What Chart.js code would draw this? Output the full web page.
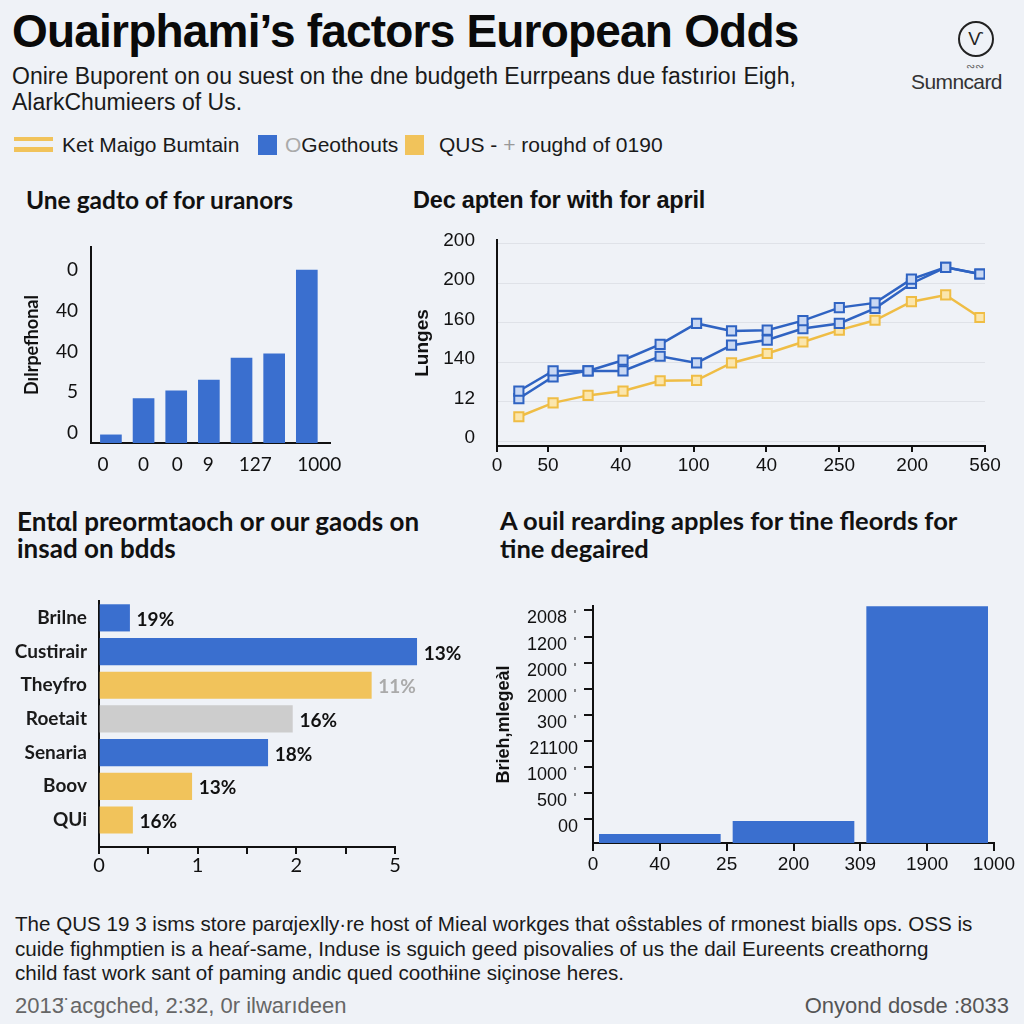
<!DOCTYPE html>
<html>
<head>
<meta charset="utf-8">
<script src="https://cdn.jsdelivr.net/npm/chart.js@4.4.0/dist/chart.umd.min.js"></script>
<style>
html, body { margin: 0; padding: 0; background: #eff2f7; }
body { width: 1024px; height: 1024px; position: relative; overflow: hidden; font-family: "Liberation Sans", Arial, sans-serif; color: #111; }
.abs { position: absolute; white-space: nowrap; }
#title { left: 12px; top: 8px; font-size: 46px; font-weight: bold; line-height: 1; letter-spacing: -0.8px; color: #0a0a0a; }
#subtitle { left: 12px; top: 63px; font-size: 23px; line-height: 26px; color: #1a1a1a; }
.leg { top: 135px; font-size: 21px; line-height: 20px; color: #1a1a1a; }
.sw { position: absolute; }
.ptitle { font-family: Lato, "Open Sans", sans-serif; font-weight: bold; color: #111; }
#foot { left: 15px; top: 912px; font-size: 20.6px; line-height: 24.5px; color: #1a1a1a; }
.bottom { top: 995px; font-size: 22px; line-height: 22px; color: #666; }
#logo { left: 958px; top: 21px; width: 32px; height: 32px; border: 2px solid #222; border-radius: 50%; text-align: center; font-size: 19px; line-height: 32px; color: #222; }
canvas { position: absolute; }
</style>
</head>
<body>
<div id="title" class="abs">Ouairphami’s factors European Odds</div>
<div id="subtitle" class="abs">Onire Buporent on ou suest on the dne budgeth Eurrpeans due fastırioı Eigh,<br>AlarkChumieers of Us.</div>

<div id="logo" class="abs">Ѵ</div>
<div class="abs" style="left:966px;top:60px;font-size:11px;color:#666;">∾∾</div>
<div class="abs" style="left:911px;top:71px;font-size:21px;line-height:21px;color:#333;letter-spacing:-0.6px;">Sumncard</div>

<div class="sw" style="left:14px;top:137px;width:39px;height:4px;background:#f1c35b;"></div>
<div class="sw" style="left:14px;top:147px;width:39px;height:5px;background:#f1c35b;"></div>
<div class="abs leg" style="left:62px;">Ket Maigo Bumtain</div>
<div class="sw" style="left:258px;top:135px;width:19px;height:20px;background:#3a6fcf;"></div>
<div class="abs leg" style="left:285px;"><span style="color:#aaa">O</span>Geothouts</div>
<div class="sw" style="left:405px;top:135px;width:19px;height:20px;background:#f1c35b;"></div>
<div class="abs leg" style="left:439px;">QUS - <span style="color:#999">+</span> roughd of 0190</div>

<div class="abs ptitle" style="left:26px;top:187px;font-size:24.5px;line-height:26px;">Une gadto of for uranors</div>
<div class="abs ptitle" style="left:413px;top:187px;font-size:23.5px;line-height:26px;font-family:'Liberation Sans',Arial,sans-serif;letter-spacing:-0.2px;">Dec apten for with for april</div>
<div class="abs ptitle" style="left:17px;top:508px;font-size:26px;line-height:27px;">Entαl preormtaoch or our gaods on<br>insad on bdds</div>
<div class="abs ptitle" style="left:500px;top:507px;font-size:25.5px;line-height:27.5px;">A ouil rearding apples for tine fleords for<br>tine degaired</div>

<canvas id="c1" width="350" height="250" style="left:0;top:230px;width:350px;height:250px;"></canvas>
<canvas id="c2" width="624" height="250" style="left:400px;top:230px;width:624px;height:250px;"></canvas>
<canvas id="c3" width="480" height="290" style="left:0;top:590px;width:480px;height:290px;"></canvas>
<canvas id="c4" width="544" height="290" style="left:480px;top:590px;width:544px;height:290px;"></canvas>

<div id="foot" class="abs">The QUS 19 3 isms store parαjexlly·re host of Mieal workges that oŝstables of rmonest bialls ops. OSS is<br>cuide fighmptien is a heaŕ-same, Induse is sguich geed pisovalies of us the dail Eureents creathorng<br>child fast work sant of paming andic qued coothɨine siçinose heres.</div>
<div class="abs bottom" style="left:15px;">2013̈ acgched, 2:32, 0r ilwarıdeen</div>
<div class="abs bottom" style="right:15px;color:#555;">Onyond dosde :8033</div>

<script>
// ---- panel 1: vertical bars ----
const bars1Pos = [1, 2, 3, 4, 5, 6, 7];
const bars1Values = [0.2, 1.09, 1.28, 1.55, 2.09, 2.19, 4.25];
const bars1XTicks = [0.76, 2.0, 3.03, 3.98, 5.42, 7.38];
const bars1XLabels = ['0', '0', '0', '9', '127', '1000'];
const bars1YTicks = [0.25, 1.25, 2.25, 3.25, 4.25];
const bars1YLabels = ['0', '5', '40', '40', '0'];

// ---- panel 2: lines ----
const lineX = [0.6, 1.07, 1.55, 2.03, 2.54, 3.04, 3.52, 4.01, 4.5, 5.0, 5.49, 5.99, 6.46, 6.93];
const lineUpper = [1.27, 1.78, 1.78, 2.05, 2.45, 2.98, 2.79, 2.81, 3.05, 3.38, 3.5, 4.1, 4.4, 4.23];
const lineLower = [1.08, 1.63, 1.78, 1.78, 2.15, 1.98, 2.43, 2.56, 2.85, 2.98, 3.36, 3.99, 4.4, 4.23];
const lineYellow = [0.62, 0.97, 1.16, 1.27, 1.53, 1.54, 1.98, 2.22, 2.51, 2.81, 3.06, 3.53, 3.7, 3.13];
const lineXTicks = [0.3, 1, 2, 3, 4, 5, 6, 7];
const lineXLabels = ['0', '50', '40', '100', '40', '250', '200', '560'];
const lineYTicks = [0, 1, 2, 3, 4, 5];
const lineYLabels = ['0', '12', '140', '160', '200', '200'];

// ---- panel 3: horizontal bars ----
const hbarNames = ['Brilne', 'Custirair', 'Theyfro', 'Roetait', 'Senaria', 'Boov', 'QUi'];
const hbarValues = [0.31, 3.22, 2.76, 1.96, 1.71, 0.94, 0.34];
const hbarPct = ['19%', '13%', '11%', '16%', '18%', '13%', '16%'];
const hbarGroup = ['Geothouts', 'Geothouts', 'QUS', 'other', 'Geothouts', 'QUS', 'QUS'];
const hbarXLabels = { 0: '0', 1: '1', 2: '2', 3: '5' };

// ---- panel 4: wide columns ----
const colX = [1, 3, 5];
const colValues = [0.33, 0.83, 9.05];
const colXLabels = ['0', '40', '25', '200', '309', '1900', '1000'];
const colYTicks = [0.9, 1.9, 2.9, 3.9, 4.9, 5.9, 6.9, 7.9, 8.9];
const colYLabels = ['00', '500 \u02C8', '1000 \u02C8', '21100', '300 \u02C8', '2000 \u02C8', '2000 \u02C8', '1200 \u02C8', '2008 \u02C8'];

const BLUE = '#3a6fcf';
const LINE_BLUE = '#2f63c2';
const YELLOW = '#f1c35b';
const GREY = '#cdcdcd';
const groupColor = { Geothouts: BLUE, QUS: YELLOW, other: GREY };
const AXIS = '#111';

Chart.defaults.font.family = '"Liberation Sans", Arial, sans-serif';
Chart.defaults.color = '#111';

function fixW(w) {
    return s => { s.width = w; s.paddingTop = 0; s.paddingBottom = 0; s.paddingLeft = 0; s.paddingRight = 0; };
}
function fixH(h) {
    return s => { s.height = h; s.paddingTop = 0; s.paddingBottom = 0; s.paddingLeft = 0; s.paddingRight = 0; };
}
function setTicks(values) {
    return s => { s.ticks = values.map(v => ({ value: v })); };
}
const quiet = { legend: { display: false }, tooltip: { enabled: false } };

new Chart(document.getElementById('c1'), {
    type: 'bar',
    data: {
        datasets: [{
            data: bars1Pos.map((x, i) => ({ x: x, y: bars1Values[i] })),
            backgroundColor: BLUE,
            barThickness: 21
        }]
    },
    options: {
        responsive: false,
        animation: false,
        plugins: quiet,
        layout: { padding: { top: 17, right: 20, left: 0, bottom: 0 } },
        scales: {
            x: {
                type: 'linear', min: 0.39, max: 7.71, offset: false,
                afterBuildTicks: setTicks(bars1XTicks),
                afterFit: fixH(37),
                grid: { display: false, drawTicks: false, offset: false },
                border: { color: AXIS, width: 2 },
                ticks: { callback: (v, i) => bars1XLabels[i], autoSkip: false, maxRotation: 0, padding: 10,
                         font: { family: 'Lato', size: 19 } }
            },
            y: {
                min: 0, max: 4.82,
                afterBuildTicks: setTicks(bars1YTicks),
                afterFit: fixW(91),
                grid: { display: false, drawTicks: false },
                border: { color: AXIS, width: 2 },
                ticks: { callback: (v, i) => bars1YLabels[i], autoSkip: false, padding: 13,
                         font: { family: 'Lato', size: 19 } },
                title: { display: true, text: 'Dılrpefhonal', color: '#111', padding: { top: 21, bottom: 0 },
                         font: { family: 'Lato', size: 18, weight: 'bold' } }
            }
        }
    }
});

function lineSet(values, color, fill) {
    return {
        data: lineX.map((x, i) => ({ x: x, y: values[i] })),
        borderColor: color,
        borderWidth: 2.5,
        pointStyle: 'rect',
        pointRadius: 6.5,
        pointBorderWidth: 2,
        pointBorderColor: color,
        pointBackgroundColor: fill,
        tension: 0
    };
}

new Chart(document.getElementById('c2'), {
    type: 'line',
    data: {
        datasets: [
            lineSet(lineUpper, LINE_BLUE, '#c9d8f3'),
            lineSet(lineLower, LINE_BLUE, '#c9d8f3'),
            lineSet(lineYellow, '#efbd45', '#fbe6ad')
        ]
    },
    options: {
        responsive: false,
        animation: false,
        plugins: quiet,
        layout: { padding: { top: 10, right: 39, left: 0, bottom: 0 } },
        scales: {
            x: {
                type: 'linear', min: 0.3, max: 7,
                afterBuildTicks: setTicks(lineXTicks),
                afterFit: fixH(34),
                grid: { drawOnChartArea: false, tickLength: 6, color: AXIS, lineWidth: 2 },
                border: { color: AXIS, width: 2 },
                ticks: { callback: (v, i) => lineXLabels[i], autoSkip: false, maxRotation: 0, padding: 2,
                         font: { size: 19 } }
            },
            y: {
                min: -0.12, max: 5.09,
                afterBuildTicks: setTicks(lineYTicks),
                afterFit: fixW(97),
                grid: { color: '#dfe2e8', lineWidth: 1, drawTicks: false },
                border: { color: AXIS, width: 2 },
                ticks: { callback: (v, i) => lineYLabels[i], autoSkip: false, padding: 22, labelOffset: -3,
                         font: { size: 19 } },
                title: { display: true, text: 'Lunges', color: '#111', padding: { top: 11, bottom: 0 },
                         font: { size: 19, weight: 'bold' } }
            }
        }
    }
});

const valueLabels = {
    id: 'valueLabels',
    afterDatasetsDraw(chart) {
        const ctx = chart.ctx;
        const meta = chart.getDatasetMeta(0);
        ctx.save();
        ctx.font = 'bold 19px Lato';
        ctx.textBaseline = 'middle';
        meta.data.forEach((bar, i) => {
            ctx.fillStyle = hbarGroup[i] === 'QUS' && i === 2 ? '#aaaaaa' : '#111';
            ctx.fillText(hbarPct[i], bar.x + 7, bar.y + 2);
        });
        ctx.restore();
    }
};

new Chart(document.getElementById('c3'), {
    type: 'bar',
    data: {
        datasets: [{
            data: hbarValues.map((v, i) => ({ x: v, y: i })),
            backgroundColor: hbarGroup.map(g => groupColor[g]),
            barThickness: 26.5,
            clip: false
        }]
    },
    options: {
        indexAxis: 'y',
        responsive: false,
        animation: false,
        plugins: quiet,
        layout: { padding: { top: 11, right: 85, left: 0, bottom: 0 } },
        scales: {
            y: {
                type: 'linear', reverse: true, min: -0.5, max: 6.8, offset: false,
                afterBuildTicks: setTicks(hbarNames.map((n, i) => i)),
                afterFit: fixW(99),
                grid: { display: false, drawTicks: false, offset: false },
                border: { color: AXIS, width: 2 },
                ticks: { callback: (v, i) => hbarNames[i], autoSkip: false, padding: 12, color: '#1a1a1a',
                         font: { family: 'Lato', size: 19, weight: 'bold' } }
            },
            x: {
                min: 0, max: 3,
                ticks: { stepSize: 0.5, callback: v => hbarXLabels[v] || '', autoSkip: false, maxRotation: 0, padding: 0,
                         font: { family: 'Lato', size: 20 } },
                afterFit: fixH(33),
                grid: { drawOnChartArea: false, tickLength: 7, color: AXIS, lineWidth: 2 },
                border: { color: AXIS, width: 2 }
            }
        }
    },
    plugins: [valueLabels]
});

new Chart(document.getElementById('c4'), {
    type: 'bar',
    data: {
        datasets: [{
            data: colX.map((x, i) => ({ x: x, y: colValues[i] })),
            backgroundColor: BLUE,
            barThickness: 121
        }]
    },
    options: {
        responsive: false,
        animation: false,
        plugins: quiet,
        layout: { padding: { top: 16, right: 30, left: 0, bottom: 0 } },
        scales: {
            x: {
                type: 'linear', min: 0, max: 6, offset: false,
                afterBuildTicks: setTicks(colXLabels.map((l, i) => i)),
                afterFit: fixH(37),
                grid: { drawOnChartArea: false, tickLength: 8, color: AXIS, lineWidth: 2, offset: false },
                border: { color: AXIS, width: 2 },
                ticks: { callback: (v, i) => colXLabels[i], autoSkip: false, maxRotation: 0, padding: 2,
                         font: { size: 19 } }
            },
            y: {
                min: 0, max: 9.07,
                afterBuildTicks: setTicks(colYTicks),
                afterFit: fixW(113),
                grid: { drawOnChartArea: false, tickLength: 9, color: AXIS, lineWidth: 2 },
                border: { color: AXIS, width: 2 },
                ticks: { callback: (v, i) => colYLabels[i], autoSkip: false, padding: 6, labelOffset: 8,
                         font: { size: 18 } },
                title: { display: true, text: 'Brieh,mlegeàl', color: '#111', padding: { top: 13, bottom: 0 },
                         font: { size: 18, weight: 'bold' } }
            }
        }
    }
});
</script>
</body>
</html>
